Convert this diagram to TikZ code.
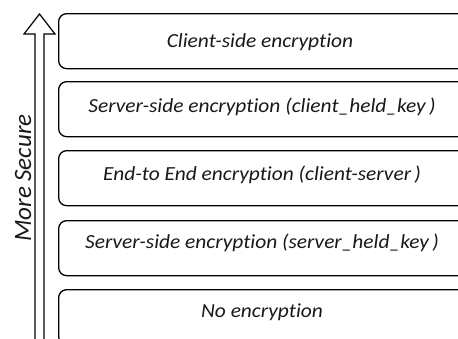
\documentclass[tikz,border=0pt]{standalone}
\usepackage{fontspec}
\setmainfont{Carlito}[Ligatures=NoCommon]
\newfontfamily\boxfont{Carlito}[Ligatures=NoCommon,FakeStretch=1.07]
\begin{document}
\begin{tikzpicture}[x=1pt,y=-1pt,
  layer/.style={draw=black,line width=1.3pt,rounded corners=8pt,minimum width=408pt,minimum height=55pt,anchor=north west,inner sep=0pt},
  layertext/.style={font=\boxfont\fontsize{20}{24}\selectfont\itshape,text=black!90,inner sep=0pt},
  sidelabel/.style={rotate=90,font=\fontsize{25}{30}\selectfont\itshape,text=black!90,inner sep=0pt},
  bigarrow/.style={draw=black,line width=1.2pt,line join=miter,fill=white}]
\useasboundingbox (0,0) rectangle (458,338);
\clip (0,0) rectangle (458,338);
\node[layer] (b1) at (58,13) {};
\node[layer] (b2) at (58,81) {};
\node[layer] (b3) at (58,150) {};
\node[layer] (b4) at (58,220) {};
\node[layer] (b5) at (58,289) {};
\node[layertext] (t1) at (260,42) {Client-side encryption};
\node[layertext] (t2) at (262,107) {Server-side encryption (client\_held\_key\,)};
\node[layertext] (t3) at (262,175) {End-to End encryption (client-server\,)};
\node[layertext] (t4) at (262,243) {Server-side encryption (server\_held\_key\,)};
\node[layertext] (t5) at (262,312) {No encryption};
\draw[bigarrow] (35,350) -- (35,34) -- (24,34) -- (39.5,14) -- (55,34) -- (44,34) -- (44,350);
\node[sidelabel] (ms) at (23,178) {More Secure};
\end{tikzpicture}
\end{document}
